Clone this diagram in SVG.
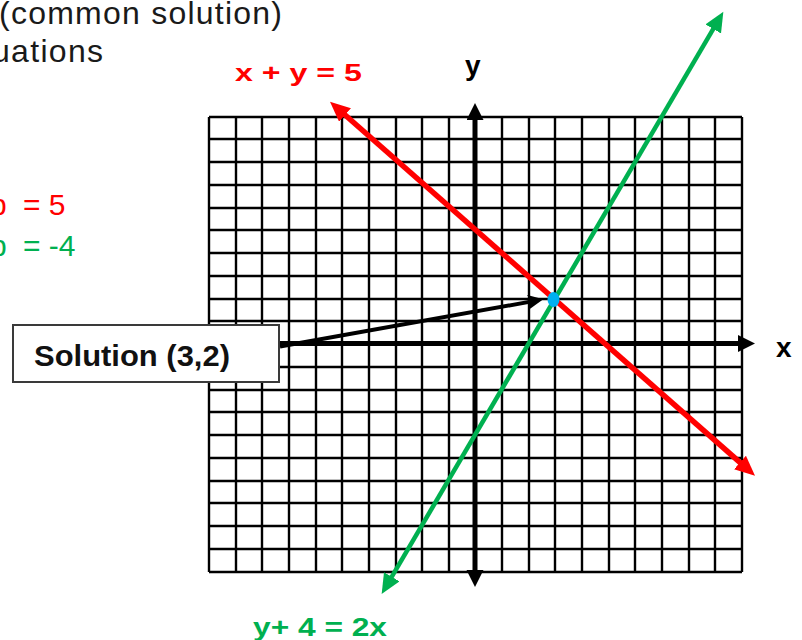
<svg xmlns="http://www.w3.org/2000/svg" width="802" height="640" viewBox="0 0 802 640">
<style>
text{font-family:"Liberation Sans",Arial,sans-serif}
.body{font-size:32px;fill:#1a1a1a}
.eq{font-size:30px}
.bold{font-weight:bold}
.grid{fill:none;stroke:#000;stroke-width:2.4}
.axis{fill:none;stroke:#000;stroke-width:5}
</style>
<defs>
<marker id="ahBlack" markerUnits="userSpaceOnUse" markerWidth="18" markerHeight="18" refX="11" refY="8.5" orient="auto-start-reverse"><path d="M0,0 L17,8.5 L0,17 z" fill="#000"/></marker>
<marker id="ahRed" markerUnits="userSpaceOnUse" markerWidth="21" markerHeight="19" refX="12" refY="9" orient="auto-start-reverse"><path d="M0,0 L20,9 L0,18 z" fill="#FF0000"/></marker>
<marker id="ahGreen" markerUnits="userSpaceOnUse" markerWidth="21" markerHeight="19" refX="12" refY="9" orient="auto-start-reverse"><path d="M0,0 L20,9 L0,18 z" fill="#00B050"/></marker>
<marker id="ahPtr" markerUnits="userSpaceOnUse" markerWidth="16" markerHeight="15" refX="9" refY="7" orient="auto"><path d="M0,0 L15,7 L0,14 z" fill="#000"/></marker>
</defs>
<rect width="802" height="640" fill="#fff"/>

<g id="intro-text">
<text class="body" x="-1" y="24" textLength="283">(common solution)</text>
<text class="body" x="-8" y="62" textLength="111">uations</text>
<text class="eq" x="-10" y="214.5" fill="#FF0000">b<tspan x="23">= 5</tspan></text>
<text class="eq" x="-10" y="255.5" fill="#00B050">b<tspan x="23">= -4</tspan></text>
</g>

<g id="grid">
<path class="grid" d="M209,117V572M236,117V572M262,117V572M289,117V572M316,117V572M342,117V572M369,117V572M396,117V572M422,117V572M449,117V572M475,117V572M502,117V572M529,117V572M555,117V572M582,117V572M609,117V572M635,117V572M662,117V572M689,117V572M715,117V572M742,117V572
M209,117H742M209,139H742M209,162H742M209,185H742M209,208H742M209,230H742M209,253H742M209,276H742M209,299H742M209,321H742M209,344H742M209,367H742M209,390H742M209,412H742M209,435H742M209,458H742M209,481H742M209,503H742M209,526H742M209,549H742M209,572H742"/>
</g>

<g id="axes">
<line class="axis" x1="475" y1="109" x2="475" y2="581" marker-start="url(#ahBlack)" marker-end="url(#ahBlack)"/>
<line class="axis" x1="209" y1="343.5" x2="749" y2="343.5" marker-end="url(#ahBlack)"/>
<text class="bold" x="776" y="356.5" font-size="28">x</text>
<text class="bold" x="465" y="75" font-size="28">y</text>
</g>

<g id="connectors">
<line id="line-red" x1="336" y1="107" x2="749" y2="470.4" stroke="#FF0000" stroke-width="5.5" marker-start="url(#ahRed)" marker-end="url(#ahRed)"/>
<line id="line-green" x1="719.3" y1="18.6" x2="385.7" y2="587.1" stroke="#00B050" stroke-width="4.5" marker-start="url(#ahGreen)" marker-end="url(#ahGreen)"/>
<line id="pointer" x1="280" y1="346.5" x2="537.4" y2="300.4" stroke="#000" stroke-width="4" marker-end="url(#ahPtr)"/>
</g>

<g id="label-red">
<text class="bold" x="235" y="81" font-size="23" fill="#FF0000" textLength="127" lengthAdjust="spacingAndGlyphs">x + y = 5</text>
</g>
<g id="label-green">
<text class="bold" x="253" y="635.5" font-size="26" fill="#00B050" textLength="134" lengthAdjust="spacingAndGlyphs">y+ 4 = 2x</text>
</g>

<g id="solution-box">
<rect x="13" y="325" width="266" height="57" fill="#fff" stroke="#3a3a3a" stroke-width="2"/>
<text class="bold" x="34" y="365.5" font-size="30" fill="#111" textLength="196" lengthAdjust="spacingAndGlyphs">Solution (3,2)</text>
</g>

<g id="solution-point">
<ellipse cx="553.5" cy="299.5" rx="6" ry="7.5" fill="#00B0F0"/>
</g>
</svg>
